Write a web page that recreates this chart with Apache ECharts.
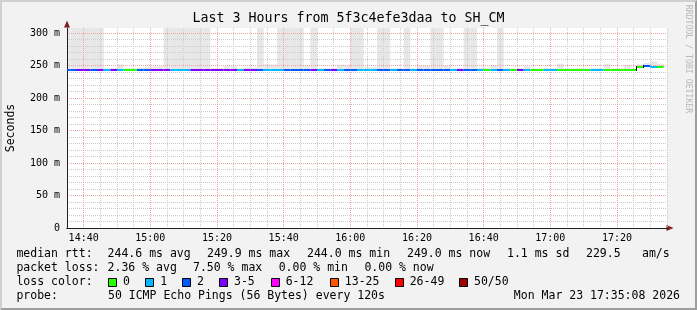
<!DOCTYPE html>
<html>
<head>
<meta charset="utf-8">
<script src="https://cdn.jsdelivr.net/npm/echarts@6/dist/echarts.min.js"></script>
<style>
html,body{margin:0;padding:0;background:#f2f2f2;}
#wrap{position:relative;width:697px;height:310px;overflow:hidden;}
#chart{position:absolute;left:0;top:0;width:697px;height:310px;}
#frame{position:absolute;left:0;top:0;width:697px;height:310px;box-sizing:border-box;
  border-top:2px solid #cfcfcf;border-left:2px solid #cfcfcf;border-right:2px solid #9e9e9e;border-bottom:2px solid #9e9e9e;pointer-events:none;}
</style>
</head>
<body>
<div id="wrap"><div id="chart"></div><div id="frame"></div></div>
<script>
// ---------------- data ----------------
const TITLE = 'Last 3 Hours from 5f3c4efe3daa to SH_CM';
const Y_LABEL = 'Seconds';
const WATERMARK = 'RRDTOOL / TOBI OETIKER';
// time axis in seconds of day
const X_START = 52500;        // 14:35
const X_END = 63300;          // 17:35
const FIRST_STEP_END = 52560; // 14:36
const STEP = 120;             // seconds per RRD step
const Y_MAX = 308;

// median RTT (ms) per step
const medianRtt = [
 244.5,244.4,244.6,244.5,244.3,244.6,244.4,244.5,244.7,244.2,
 244.3,244.5,244.4,244.6,244.5,244.7,244.4,244.3,244.5,244.6,
 244.5,244.4,244.6,244.5,244.3,244.4,244.5,244.6,244.4,244.5,
 244.6,244.4,244.5,244.3,244.4,244.6,244.5,244.4,244.5,244.3,
 244.4,244.5,244.6,244.4,244.3,244.5,244.4,244.6,244.5,244.4,
 244.3,244.5,244.4,244.6,244.5,244.4,244.3,244.5,244.6,244.4,
 244.5,244.3,244.4,244.2,244.5,244.4,244.3,244.0,244.5,244.4,
 244.2,244.3,244.4,244.3,244.1,244.2,244.3,244.2,244.4,244.3,
 244.4,244.2,244.3,244.1,244.4,244.3,248.2,249.9,249.2,249.0
];
// lost pings (of 50) per step
const lossCount = [
 2,2,3,3,2,3,1,3,1,0,
 0,2,2,3,3,3,1,1,1,3,
 3,3,3,3,3,3,1,3,3,2,
 1,1,1,2,2,2,2,3,1,2,
 3,1,2,2,1,1,1,2,2,1,
 2,2,1,2,2,2,2,2,1,3,
 2,2,1,0,1,2,1,0,3,1,
 0,0,1,1,0,0,0,0,0,1,
 1,0,0,0,0,0,0,2,1,0
];
// highest ping (ms) per step (smoke top)
const smokeMax = [
 320,320,320,320,320,320,246,246,252,246,
 246,247,248,249,249,320,320,320,320,320,
 320,320,246,246,249,249,246,247,247,320,
 252,252,320,320,320,320,249,320,246,246,
 246,251,251,320,320,248,248,320,320,246,
 246,320,246,250,250,320,320,250,246,246,
 320,320,247,247,250,320,246,246,246,249,
 246,246,246,246,253,246,246,246,246,246,
 246,253,246,246,251,246,252,254,257,253
];

const lossColors = ['#26ff00','#00b8ff','#0059ff','#7e00ff','#ff00ff','#ff5500','#ff0000','#a10000'];
const lossLabels = ['0','1','2','3-5','6-12','13-25','26-49','50/50'];
const rttStats = ['244.6 ms avg','249.9 ms max','244.0 ms min','249.0 ms now','1.1 ms sd','229.5','am/s'];
const lossStats = ['2.36 % avg','7.50 % max','0.00 % min','0.00 % now'];
const probeText = '50 ICMP Echo Pings (56 Bytes) every 120s';
const dateText = 'Mon Mar 23 17:35:08 2026';

// ---------------- chart ----------------
const MONO = '"DejaVu Sans Mono", monospace';
const MINOR = '#cbcbcb', MAJOR = '#eea3a3';
function lossIndex(n){ if(n<=0)return 0; if(n===1)return 1; if(n===2)return 2; if(n<=5)return 3; if(n<=12)return 4; if(n<=25)return 5; if(n<=49)return 6; return 7; }

const steps = medianRtt.map((m,i)=>{
  const end = FIRST_STEP_END + STEP*i;
  return [end-STEP, end, m, smokeMax[i], lossCount[i], i>0?medianRtt[i-1]:m];
});

function clipR(r, cs){
  return echarts.graphic.clipRectByRect(r,{x:cs.x,y:cs.y,width:cs.width,height:cs.height});
}
function renderSmoke(params, api){
  const a = api.coord([api.value(0), api.value(3)]);
  const b = api.coord([api.value(1), api.value(2)]);
  const r = clipR({x:a[0],y:a[1],width:b[0]-a[0],height:b[1]-a[1]}, params.coordSys);
  if(!r) return null;
  return {type:'rect', shape:r, style:{fill:'#e7e7e7'}};
}
function renderMedian(params, api){
  const s = api.value(0), e = api.value(1), m = api.value(2), prev = api.value(5);
  const a = api.coord([s, m]), b = api.coord([e, m]);
  const yy = Math.floor(a[1]);
  const r = clipR({x:a[0],y:yy,width:b[0]-a[0],height:2}, params.coordSys);
  const children = [];
  if(r) children.push({type:'rect', shape:r, style:{fill:lossColors[lossIndex(api.value(4))]}});
  if(Math.abs(prev-m) > 1){
    const p = api.coord([s, prev]);
    const py = Math.floor(p[1]);
    const y1 = Math.min(py, yy), y2 = Math.max(py, yy) + 2;
    children.push({type:'rect', shape:{x:Math.round(a[0])-1,y:y1,width:1,height:y2-y1}, style:{fill:'#000'}});
  }
  return {type:'group', children};
}

function hhmm(v){
  const h = Math.floor(v/3600), mi = Math.floor((v%3600)/60);
  return String(h).padStart(2,'0')+':'+String(mi).padStart(2,'0');
}

const graphics = [];
function txt(x, y, s, extra){
  graphics.push(Object.assign({type:'text', x, y, z:100,
    style:Object.assign({text:s, fill:'#000', font:'11.5px '+MONO, align:'left', verticalAlign:'middle'}, (extra&&extra.style)||{})},
    extra&&extra.el||{}));
}
// title
txt(348.5, 19, TITLE, {style:{font:'13.3px '+MONO, align:'center'}});
// y name
txt(11, 128, Y_LABEL, {style:{align:'center'}, el:{rotation:Math.PI/2}});
// watermark
txt(688, 59, WATERMARK, {style:{font:'8.2px '+MONO, align:'center', fill:'#b8b8b8'}, el:{rotation:-Math.PI/2}});
// legend rows
const rowY = [254.5, 268.5, 282.5, 296.5];
txt(16.4, rowY[0], 'median rtt:');
[107.6, 207, 307, 407, 507, 586, 642].forEach((x,i)=>txt(x, rowY[0], rttStats[i]));
txt(16.4, rowY[1], 'packet loss:');
[107.6, 193, 278.7, 364.4].forEach((x,i)=>txt(x, rowY[1], lossStats[i]));
txt(16.4, rowY[2], 'loss color:');
const boxX = [108, 145.3, 182, 219, 270.7, 329.8, 394.7, 459];
boxX.forEach((x,i)=>{
  graphics.push({type:'rect', z:100, shape:{x:Math.round(x)+0.5, y:Math.round(rowY[2]-4.5)+0.5, width:8, height:8},
    style:{fill:lossColors[i], stroke:'#000', lineWidth:1}});
  txt(x+15, rowY[2], lossLabels[i]);
});
txt(16.4, rowY[3], 'probe:');
txt(108, rowY[3], probeText);
txt(680, rowY[3], dateText, {style:{align:'right'}});

const chart = echarts.init(document.getElementById('chart'), null, {renderer:'canvas'});
const xBase = {type:'value', min:X_START, max:X_END, interval:300, gridIndex:0};
const yBase = {type:'value', min:0, max:Y_MAX, interval:10, gridIndex:0};
chart.setOption({
  animation:false,
  backgroundColor:'#f2f2f2',
  grid:{left:67, right:30, top:28, bottom:82, show:true, backgroundColor:'#ffffff', borderWidth:0, containLabel:false, outerBoundsMode:'none'},
  xAxis:[
    Object.assign({}, xBase, {
      z:4, position:'bottom',
      axisLine:{show:true, onZero:false, lineStyle:{color:'#1f1f1f', width:1}},
      axisTick:{show:false},
      axisLabel:{show:true, margin:5, color:'#000', fontFamily:MONO, fontSize:10,
        formatter:v => (v % 1200 === 0 ? hhmm(v) : '')},
      splitLine:{show:true, lineStyle:{color:[MINOR, MAJOR, MINOR, MINOR], width:1, type:[1,1]}}
    }),
    Object.assign({}, xBase, {
      z:3, position:'bottom',
      axisLine:{show:true, onZero:false, symbol:['none','triangle'], symbolSize:[6,7], symbolOffset:[0,3],
        lineStyle:{color:'#801f1f', width:1}},
      axisTick:{show:false}, axisLabel:{show:false}, splitLine:{show:false}
    })
  ],
  yAxis:[
    Object.assign({}, yBase, {
      z:4, position:'left',
      axisLine:{show:true, onZero:false, lineStyle:{color:'#1f1f1f', width:1}},
      axisTick:{show:false},
      axisLabel:{show:true, margin:7, color:'#000', fontFamily:MONO, fontSize:10,
        formatter:v => (v % 50 === 0 ? (v === 0 ? '0' : v + ' m') : '')},
      splitLine:{show:true, showMaxLine:false, lineStyle:{color:[MAJOR, MINOR, MINOR, MINOR, MINOR], width:1, type:[1,1]}}
    }),
    Object.assign({}, yBase, {
      z:3, position:'left',
      axisLine:{show:true, onZero:false, symbol:['none','triangle'], symbolSize:[6,7], symbolOffset:[0,4],
        lineStyle:{color:'#801f1f', width:1}},
      axisTick:{show:false}, axisLabel:{show:false}, splitLine:{show:false}
    })
  ],
  series:[
    {type:'custom', name:'smoke', xAxisIndex:0, yAxisIndex:0, z:2, silent:true,
      renderItem:renderSmoke, encode:{x:[0,1], y:[2,3]}, data:steps},
    {type:'custom', name:'median', xAxisIndex:0, yAxisIndex:0, z:6, silent:true,
      renderItem:renderMedian, encode:{x:[0,1], y:[2]}, data:steps}
  ],
  graphic:graphics
});
</script>
</body>
</html>
